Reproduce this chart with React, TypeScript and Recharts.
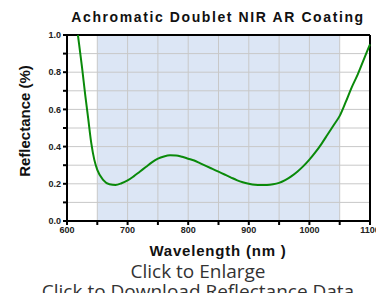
import React from "react";
import {
  ComposedChart,
  Line,
  XAxis,
  YAxis,
  ReferenceArea,
  ReferenceLine,
} from "recharts";

// wavelength (nm) and reflectance (%)
const wavelengths = [
  618, 620, 625, 630, 635, 640, 645, 650, 660, 670, 680, 690, 700, 710, 720, 730,
  740, 750, 760, 770, 780, 790, 800, 810, 820, 830, 840, 850, 860, 870, 880, 890,
  900, 910, 920, 930, 940, 950, 960, 970, 980, 990, 1000, 1010, 1020, 1030, 1040,
  1050, 1060, 1070, 1080, 1090, 1100,
];
const reflectance = [
  1.0, 0.95, 0.82, 0.68, 0.55, 0.42, 0.33, 0.275, 0.22, 0.197, 0.194, 0.203, 0.218,
  0.24, 0.265, 0.29, 0.315, 0.335, 0.347, 0.353, 0.352, 0.345, 0.335, 0.325, 0.31,
  0.295, 0.28, 0.265, 0.25, 0.235, 0.22, 0.208, 0.2, 0.195, 0.194, 0.194, 0.197,
  0.205, 0.22, 0.24, 0.265, 0.295, 0.33, 0.37, 0.415, 0.465, 0.515, 0.565, 0.64,
  0.72, 0.79, 0.87, 0.95,
];

const xTicks = [600, 650, 700, 750, 800, 850, 900, 950, 1000, 1050, 1100];
const yTicks = [0, 0.1, 0.2, 0.3, 0.4, 0.5, 0.6, 0.7, 0.8, 0.9, 1.0];
const xDomain = [600, 1100];
const yDomain = [0, 1];
const shadedRange = [650, 1050];

const data = wavelengths.map((w, i) => ({ w, r: reflectance[i] }));

const FONT = "'Liberation Sans', Arial, sans-serif";
const tickStyle = { fill: "#222", fontSize: 9, fontWeight: 700 };

function YLabel(props: any) {
  const vb = props.viewBox || { x: 0, y: 0, width: 0, height: 0 };
  const cx = vb.x + 24;
  const cy = vb.y + vb.height / 2 - 7;
  return (
    <text
      x={cx}
      y={cy}
      transform={`rotate(-90 ${cx} ${cy})`}
      textAnchor="middle"
      dominantBaseline="central"
      fill="#111"
      fontSize={15}
      fontWeight={700}
    >
      Reflectance (%)
    </text>
  );
}

export default function App() {
  return (
    <div style={{ margin: -8, width: 384, height: 301, fontFamily: FONT }}>
      <ComposedChart
        width={384}
        height={301}
        data={data}
        margin={{ top: 35, right: 14, left: 0, bottom: 60 }}
      >
        <ReferenceArea
          x1={shadedRange[0]}
          x2={shadedRange[1]}
          y1={yDomain[0]}
          y2={yDomain[1]}
          fill="#dce6f5"
          fillOpacity={1}
        />
        {/* grid drawn after the shading so it shows through */}
        {xTicks.map((t) => (
          <ReferenceLine key={`gx${t}`} x={t} stroke="#c8c8c8" />
        ))}
        {yTicks.map((t) => (
          <ReferenceLine key={`gy${t}`} y={t} stroke="#c8c8c8" />
        ))}
        {/* top and right edges of the frame */}
        <ReferenceLine x={xDomain[1]} stroke="#000" strokeWidth={2} />
        <ReferenceLine y={yDomain[1]} stroke="#000" strokeWidth={2} />
        <XAxis
          dataKey="w"
          type="number"
          domain={xDomain}
          ticks={xTicks}
          interval={0}
          tickFormatter={(v: number) => (v % 100 === 0 ? String(v) : "")}
          tick={tickStyle}
          tickSize={4}
          stroke="#000"
          tickLine={{ stroke: "#000", strokeWidth: 2 }}
          axisLine={{ stroke: "#000", strokeWidth: 2 }}
          height={20}
          tickMargin={2}
        />
        <YAxis
          type="number"
          domain={yDomain}
          ticks={yTicks}
          interval={0}
          tickFormatter={(v: number) =>
            Math.round(v * 10) % 2 === 0 ? v.toFixed(1) : ""
          }
          tick={tickStyle}
          tickSize={4}
          stroke="#000"
          tickLine={{ stroke: "#000", strokeWidth: 2 }}
          axisLine={{ stroke: "#000", strokeWidth: 2 }}
          width={67}
          tickMargin={2}
          label={<YLabel />}
        />
        <Line
          type="monotone"
          dataKey="r"
          stroke="#0a8a0a"
          strokeWidth={2}
          dot={false}
          activeDot={false}
          isAnimationActive={false}
        />
        <text
          x={218}
          y={17}
          textAnchor="middle"
          dominantBaseline="central"
          fontSize={14}
          fontWeight={700}
          letterSpacing={1.6}
          fill="#111"
        >
          Achromatic Doublet NIR AR Coating
        </text>
        <text
          x={218}
          y={250}
          textAnchor="middle"
          dominantBaseline="central"
          fontSize={15}
          fontWeight={700}
          letterSpacing={0.8}
          fill="#111"
        >
          Wavelength (nm )
        </text>
        <text
          x={198}
          y={271}
          textAnchor="middle"
          dominantBaseline="central"
          fontSize={19}
          fontFamily="'Open Sans', sans-serif"
          fill="#333"
        >
          Click to Enlarge
        </text>
        <text
          x={198}
          y={291}
          textAnchor="middle"
          dominantBaseline="central"
          fontSize={19}
          fontFamily="'Open Sans', sans-serif"
          fill="#333"
        >
          Click to Download Reflectance Data
        </text>
      </ComposedChart>
    </div>
  );
}
